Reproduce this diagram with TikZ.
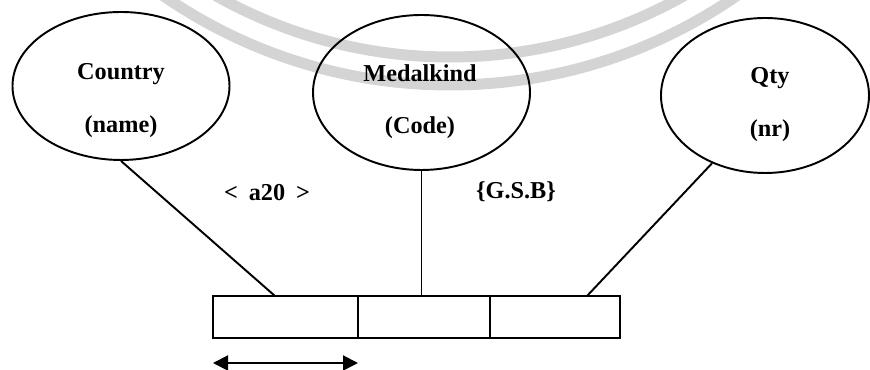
\documentclass[tikz,border=0pt]{standalone}
\usepackage{fontspec}
\setmainfont{Liberation Serif}
\usetikzlibrary{shapes.geometric,arrows.meta}
\begin{document}
\begin{tikzpicture}[line width=1.1pt,
    attr/.style={draw,ellipse,inner sep=0},
    cell/.style={draw,rectangle,minimum height=.84cm,inner sep=0,outer sep=0,line width=1.3pt},
    txt/.style={font=\fontsize{13.8}{16}\selectfont\bfseries},
    tip/.style={{Triangle[length=.3cm,width=.3cm]}-{Triangle[length=.3cm,width=.3cm]}}]
    \useasboundingbox (0,0) rectangle (17.4,7.4);
    \begin{scope}
    \clip (0,0) rectangle (17.4,7.4);
    \draw[black!17,line width=.22cm] (9,15.8) circle (10.1);
    \draw[black!17,line width=.22cm] (9,15.8) circle (9.54);
    \end{scope}
    \node[attr,minimum width=4.34cm,minimum height=2.96cm] (country) at (2.42,5.68) {};
    \node[attr,minimum width=4.34cm,minimum height=3.1cm] (medal) at (8.43,5.55) {};
    \node[attr,minimum width=4.16cm,minimum height=3.1cm] (qty) at (15.3,5.49) {};
    \node[txt] (countryname) at (2.42,5.92) {Country};
    \node[txt] (countrykey) at (2.42,4.86) {(name)};
    \node[txt] (medalname) at (8.4,5.94) {Medalkind};
    \node[txt] (medalkey) at (8.4,4.84) {(Code)};
    \node[txt] (qtyname) at (15.4,5.84) {Qty};
    \node[txt] (qtykey) at (15.4,4.78) {(nr)};
    \node[txt] (len) at (5.34,3.54) {<\hspace{.45em}a20\hspace{.45em}>};
    \node[txt] (dom) at (10.32,3.56) {\{G.S.B\}};
    \node[cell,minimum width=2.9cm] (cellA) at (5.71,1.06) {};
    \node[cell,minimum width=2.64cm] (cellB) at (8.48,1.06) {};
    \node[cell,minimum width=2.6cm] (cellC) at (11.1,1.06) {};
    \draw (country.south) -- ([xshift=-.21cm]cellA.north);
    \draw (medal.south) -- ([xshift=-.05cm]cellB.north);
    \draw (qty.-128) -- ([xshift=.64cm]cellC.north);
    \draw[tip] ([yshift=-.5cm]cellA.south west) -- ([yshift=-.5cm]cellA.south east);
\end{tikzpicture}
\end{document}
